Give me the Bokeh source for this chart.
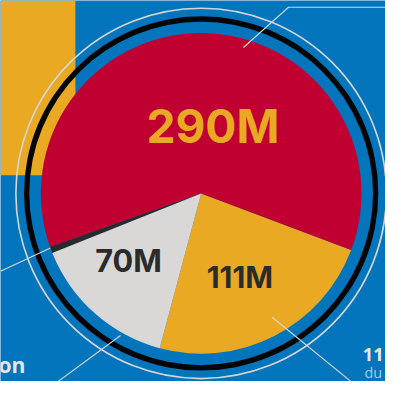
import numpy as np
from bokeh.plotting import figure
from bokeh.models import Range1d, ColumnDataSource
from bokeh.core.properties import value
from bokeh.embed import file_html
from bokeh.resources import INLINE

# ---- data ----
categories = ["Yellow", "Red", "Dark", "Gray"]
values = [111, 290, 3, 70]
labels = ["111M", "290M", "", "70M"]
slice_colors = ["#E9A923", "#C10032", "#2A2A2A", "#D9D8D7"]
label_colors = ["#2B2B2B", "#E9A923", "#2B2B2B", "#2B2B2B"]

# ---- layout (reference pixel units, y up) ----
W, H = 401, 397
S = 385 / 401.0
cx, cy = 209, H - 201
R = 167
start_deg = -105.0
BASE_SHIFT = 0.4  # empirical baseline correction (em)

vals = np.array(values, dtype=float)
spans = vals / vals.sum() * 2 * np.pi
ends = np.radians(start_deg) + np.cumsum(spans)
starts = ends - spans
mids = (starts + ends) / 2

label_r = [107, 52, 0, 112]
label_nudge = [-5.0, -13.0, 0.0, -0.9]
label_sizes = [31, 48, 10, 32]
lx = [cx + r * np.cos(m + np.radians(n)) for r, m, n in zip(label_r, mids, label_nudge)]
ly = [cy + r * np.sin(m + np.radians(n)) + BASE_SHIFT * s
      for r, m, n, s in zip(label_r, mids, label_nudge, label_sizes)]

src = ColumnDataSource(dict(cat=categories, start=starts, end=ends, color=slice_colors))
lsrc = ColumnDataSource(dict(x=lx, y=ly, text=labels, color=label_colors,
                             size=[f"{s * S:.1f}px" for s in label_sizes]))

p = figure(width=385, height=381, x_range=Range1d(0, W), y_range=Range1d(0, H),
           output_backend="svg", toolbar_location=None, min_border=0)
p.axis.visible = False
p.grid.visible = False
p.outline_line_color = None
p.background_fill_color = "#0375BD"
p.border_fill_color = "#0375BD"

# yellow block top-left
p.quad(left=0, right=78, top=H, bottom=H - 182, color="#E9A923", line_color=None)

# outer rings
p.circle(x=cx, y=cy, radius=193, fill_color=None, line_color="#D6D6D6", line_width=1.6)
p.annulus(x=cx, y=cy, inner_radius=179, outer_radius=184.5, color="#050505", line_color=None)

# pie
p.wedge(x=cx, y=cy, radius=R, start_angle="start", end_angle="end", color="color",
        line_color=None, source=src)

# leader lines
leaders = [
    ([253, 300, 401], [49, 7, 7]),
    ([52, 0], [258, 282]),
    ([125, 60], [349, 397]),
    ([283, 365], [330, 397]),
]
for xs, ys in leaders:
    p.line(x=xs, y=[H - v for v in ys], line_color="#D6D6D6", line_width=1.1)

# pie labels
p.text(x="x", y="y", text="text", text_color="color", text_font_size="size",
       text_font=value("Inter"), text_font_style="bold", text_align="center",
       text_baseline="alphabetic", source=lsrc)

# side texts (kept inside the frame)
def side_text(x, y, t, color, size, style, align):
    p.text(x=[x], y=[H - y + BASE_SHIFT * size], text=[t], text_color=color,
           text_font=value("Open Sans"), text_font_style=style,
           text_font_size=f"{size * S:.1f}px", text_align=align, text_baseline="alphabetic")

side_text(26, 388, "on", "#E6E6E6", 22, "bold", "right")
side_text(399, 376, "11", "#E6E6E6", 19, "bold", "right")
side_text(379, 394, "du", "#A8CBEB", 15, "normal", "left")

open("out.html", "w").write(file_html(p, INLINE))
